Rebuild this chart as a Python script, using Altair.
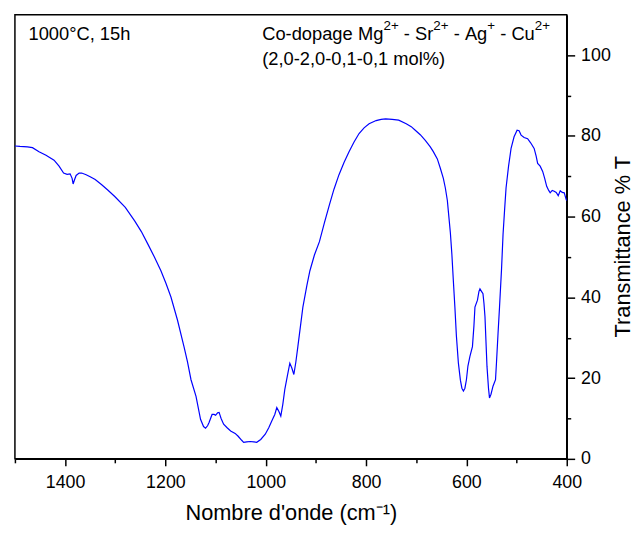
import altair as alt
import pandas as pd

wavenumber = [1500, 1490, 1475, 1465, 1452, 1438, 1422, 1412, 1403, 1396, 1390, 1386, 1384, 1381,
              1378, 1372, 1367, 1358, 1350, 1340, 1327, 1315, 1301, 1280, 1261, 1248, 1235, 1222,
              1209, 1199, 1189, 1176, 1163, 1156, 1149, 1139, 1130, 1124, 1120, 1116, 1113, 1107,
              1103, 1100, 1096, 1093, 1089, 1084, 1077, 1070, 1061, 1055, 1048, 1044, 1038, 1031,
              1024, 1018, 1010, 1001, 994, 988, 982, 978, 974, 970, 966, 962, 957, 952, 948, 944,
              940, 936, 926, 918, 912, 903, 893, 883, 873, 864, 854, 844, 834, 824, 814, 804, 794,
              780, 770, 761, 748, 735, 720, 710, 702, 692, 682, 672, 666, 658, 652, 646, 642, 638,
              636, 632, 629, 626, 623, 620, 616, 612, 609, 606, 603, 600, 597, 593, 588, 585, 583,
              578, 575, 573, 570, 567, 565, 563, 561, 559, 556, 554, 551, 547, 542, 540, 537, 534,
              530, 527, 524, 521, 516, 511, 505, 499, 495, 491, 485, 478, 472, 465, 461, 458, 453,
              448, 444, 440, 436, 433, 429, 425, 421, 417, 413, 409, 405, 401, 400]
transmittance = [77.5, 77.4, 77.3, 77.1, 76.1, 75.2, 74.0, 72.5, 70.8, 70.5, 70.6, 69.5, 68.1, 69.2,
                 70.2, 70.8, 70.8, 70.4, 69.9, 69.2, 67.9, 66.6, 65.0, 62.3, 58.9, 56.3, 53.2, 50.0,
                 46.6, 43.5, 40.1, 34.4, 27.8, 24.0, 19.6, 15.5, 9.8, 8.0, 7.6, 8.2, 9.0, 11.0,
                 11.0, 10.8, 11.4, 11.5, 10.0, 8.6, 7.7, 6.9, 6.3, 5.6, 4.6, 4.1, 4.2, 4.3,
                 4.2, 4.1, 4.8, 6.1, 7.7, 9.4, 11.0, 12.7, 11.8, 10.6, 13.5, 17.2, 20.5, 23.7, 22.5, 20.9,
                 24.0, 27.8, 37.6, 43.0, 46.6, 50.5, 53.8, 58.5, 63.0, 66.8, 70.4, 73.4, 76.1, 78.5, 80.6, 82.0, 83.0,
                 83.8, 84.1, 84.2, 84.1, 83.9, 83.0, 82.3, 81.4, 80.3, 78.9, 77.3, 76.1, 74.3, 72.0, 69.5, 67.1, 64.0,
                 61.3, 56.0, 50.7, 44.0, 37.6, 30.5, 23.7, 19.5, 17.5, 16.8, 17.5, 19.6, 23.0, 25.4, 27.8, 33.0, 37.6,
                 39.3, 41.5, 42.1, 41.5, 40.9, 38.5, 35.2, 29.0, 22.9, 17.5, 15.1, 16.0, 18.0, 19.6, 24.0, 31.0, 37.6,
                 47.0, 55.6, 61.5, 67.1, 72.5, 76.9, 79.8, 81.4, 81.3, 80.2, 79.6, 79.3, 78.3, 76.9, 75.0, 73.2, 72.5,
                 71.2, 69.5, 67.5, 66.5, 65.9, 66.5, 66.3, 66.0, 65.2, 66.4, 66.0, 65.9, 64.2, 64.0]

x_ticks = [1500, 1400, 1300, 1200, 1100, 1000, 900, 800, 700, 600, 500, 400]
y_ticks = [0, 10, 20, 30, 40, 50, 60, 70, 80, 90, 100]

# annotation pieces: (text, is_superscript)
line1_pieces = [("Co-dopage Mg", False), ("2+", True), (" - Sr", False), ("2+", True),
                (" - Ag", False), ("+", True), (" - Cu", False), ("2+", True)]
line2_text = "(2,0-2,0-0,1-0,1 mol%)"
left_text = "1000°C, 15h"
left_pos = (1473, 103.8)
right_pos = (1007, 103.8)
line2_y = 97.5

FONT = "Liberation Sans"
TOTAL_W, TOTAL_H = 633, 518
W_EST, H_EST = 557, 447   # expected plot area, used only for superscript layout
X0, X1 = 1500, 400
Y0, Y1 = 0, 110
MAIN_FS, SUP_FS, SUP_RISE = 18.5, 13.5, 9.5

# Arial advance widths (per 1000 em) for text layout of superscript pieces
ADV = {"C": 722, "o": 556, "-": 333, "d": 556, "p": 556, "a": 556, "g": 556, "e": 556,
       " ": 278, "M": 833, "2": 556, "+": 584, "S": 667, "r": 333, "A": 667, "u": 556}
px_x = W_EST / (X0 - X1)
px_y = H_EST / (Y1 - Y0)


def width(s, fs):
    return sum(ADV[c] for c in s) / 1000 * fs


rows = [{"label": left_text, "x": left_pos[0], "y": left_pos[1], "fs": MAIN_FS},
        {"label": line2_text, "x": right_pos[0], "y": line2_y, "fs": MAIN_FS}]
off = 0.0
for txt, sup in line1_pieces:
    fs = SUP_FS if sup else MAIN_FS
    # render each space-separated token on its own so no whitespace is lost
    tokens = txt.split(" ")
    for i, tok in enumerate(tokens):
        if i > 0:
            off += width(" ", fs)
        if tok:
            rows.append({"label": tok, "x": right_pos[0] - off / px_x,
                         "y": right_pos[1] + (SUP_RISE / px_y if sup else 0), "fs": fs})
            off += width(tok, fs)

spec = pd.DataFrame({"wn": wavenumber, "T": transmittance})
ann = pd.DataFrame(rows)

xscale = alt.Scale(domain=[X0, X1], nice=False, zero=False)
yscale = alt.Scale(domain=[Y0, Y1], nice=False, zero=True)

line = alt.Chart(spec).mark_line(color="#0000ff", strokeWidth=1.2).encode(
    x=alt.X("wn:Q", scale=xscale, axis=alt.Axis(
        values=x_ticks, format="d", grid=False,
        labelExpr="datum.value % 200 == 0 ? datum.label : ''",
        tickSize={"condition": {"test": "datum.value % 200 == 0", "value": 7}, "value": 4},
        labelFlush=False, labelOverlap=False, labelPadding=8,
        title="Nombre d'onde (cm⁻¹)", titlePadding=11,
    )),
    y=alt.Y("T:Q", scale=yscale, axis=alt.Axis(
        orient="right", values=y_ticks, format="d", grid=False,
        labelExpr="datum.value % 20 == 0 ? datum.label : ''",
        tickSize={"condition": {"test": "datum.value % 20 == 0", "value": 8}, "value": 4},
        labelFlush=False, labelOverlap=False, labelPadding=6,
        title="Transmittance % T", titleAngle=270, titleBaseline="top", titlePadding=2,
        titleY=234,
    )),
)

text = alt.Chart(ann).mark_text(
    align="left", baseline="alphabetic", font=FONT, color="black"
).encode(
    x=alt.X("x:Q", scale=xscale),
    y=alt.Y("y:Q", scale=yscale),
    size=alt.Size("fs:Q", scale=None),
    text="label:N",
)

chart = alt.layer(line, text).properties(
    width=TOTAL_W, height=TOTAL_H,
    padding={"left": 4, "top": 4, "right": 0, "bottom": 0},
    autosize=alt.AutoSizeParams(type="fit", contains="padding"),
).configure_view(
    stroke="black", strokeWidth=1.5
).configure_axis(
    labelFont=FONT, titleFont=FONT, labelFontSize=18, titleFontSize=22,
    titleFontWeight="normal", labelColor="black", titleColor="black",
    domainColor="black", domainWidth=1.5, tickColor="black", tickWidth=1.5,
)

chart.save("out.html", embed_options={"renderer": "svg", "actions": False})
